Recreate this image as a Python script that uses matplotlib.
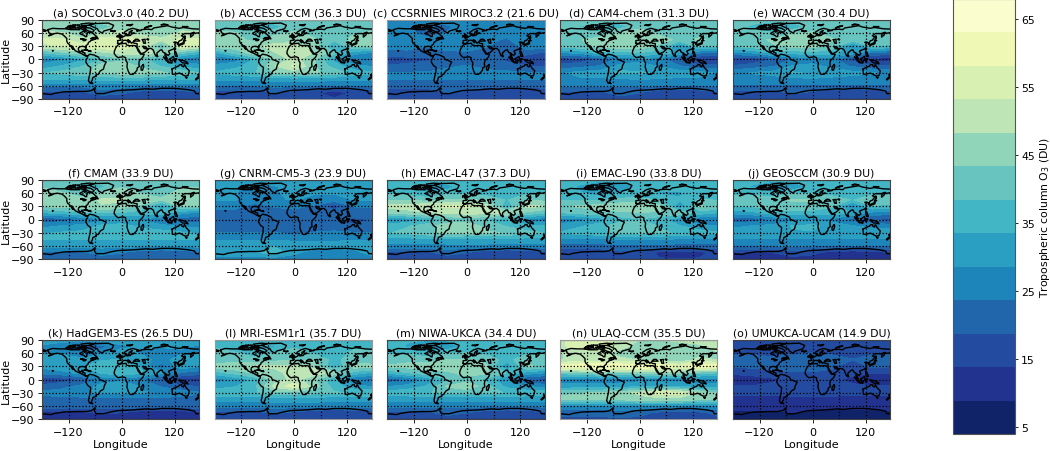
#Tropospheric column ozone maps, 15 models + shared colorbar
import matplotlib
matplotlib.use("Agg")
import matplotlib.pyplot as plt
import numpy as np

#1. Grid and labels
lons = [-180, -135, -90, -45, 0, 45, 90, 135, 180]
lats = [90, 75, 60, 45, 30, 15, 0, -15, -30, -45, -60, -75, -90]
levels = np.linspace(4, 68, 14)
titles = ["(a) SOCOLv3.0 (40.2 DU)", "(b) ACCESS CCM (36.3 DU)", "(c) CCSRNIES MIROC3.2 (21.6 DU)",
          "(d) CAM4-chem (31.3 DU)", "(e) WACCM (30.4 DU)", "(f) CMAM (33.9 DU)", "(g) CNRM-CM5-3 (23.9 DU)",
          "(h) EMAC-L47 (37.3 DU)", "(i) EMAC-L90 (33.8 DU)", "(j) GEOSCCM (30.9 DU)",
          "(k) HadGEM3-ES (26.5 DU)", "(l) MRI-ESM1r1 (35.7 DU)", "(m) NIWA-UKCA (34.4 DU)",
          "(n) ULAQ-CCM (35.5 DU)", "(o) UMUKCA-UCAM (14.9 DU)"]

#2. Values, rows are lats, columns are lons
socol = [[47, 47, 47, 47, 47, 47, 47, 47, 47],
         [46, 44, 37, 40, 46, 47, 47, 47, 46],
         [49, 49, 44, 47, 50, 46, 45, 49, 49],
         [54, 54, 50, 56, 56, 54, 50, 55, 54],
         [52, 54, 55, 57, 57, 52, 38, 56, 52],
         [38, 42, 46, 47, 50, 50, 47, 40, 34],
         [26, 28, 32, 38, 42, 40, 34, 26, 24],
         [30, 34, 38, 46, 48, 42, 38, 32, 30],
         [38, 40, 42, 45, 46, 46, 44, 42, 38],
         [34, 34, 34, 35, 35, 35, 34, 34, 34],
         [25, 25, 25, 26, 26, 25, 25, 25, 25],
         [18, 18, 18, 22, 20, 17, 16, 17, 18],
         [15, 15, 15, 15, 15, 15, 15, 15, 15]]
access = [[42, 42, 42, 42, 42, 42, 42, 42, 42],
          [42, 40, 34, 36, 42, 42, 42, 42, 42],
          [44, 44, 40, 42, 44, 42, 40, 43, 44],
          [44, 45, 42, 46, 47, 44, 40, 45, 44],
          [46, 46, 47, 50, 50, 47, 32, 44, 44],
          [32, 40, 46, 48, 52, 48, 40, 30, 28],
          [24, 26, 34, 44, 50, 44, 32, 24, 22],
          [30, 32, 36, 48, 54, 44, 36, 30, 28],
          [34, 36, 38, 44, 46, 44, 42, 36, 34],
          [30, 30, 30, 31, 31, 31, 30, 30, 30],
          [24, 24, 24, 25, 25, 24, 24, 24, 24],
          [16, 16, 16, 19, 17, 14, 13, 14, 16],
          [14, 14, 14, 14, 14, 14, 14, 14, 14]]
ccsrnies = [[26, 26, 26, 26, 26, 26, 26, 26, 26],
            [26, 25, 21, 23, 26, 26, 26, 26, 26],
            [26, 25, 22, 24, 26, 24, 25, 26, 26],
            [27, 27, 25, 28, 28, 25, 23, 28, 27],
            [26, 26, 24, 27, 26, 24, 19, 27, 26],
            [21, 22, 21, 22, 23, 22, 22, 20, 18],
            [17, 17, 18, 20, 21, 20, 18, 16, 16],
            [19, 20, 21, 23, 24, 22, 20, 19, 18],
            [24, 24, 24, 25, 25, 25, 25, 24, 24],
            [24, 24, 24, 24, 24, 24, 24, 24, 24],
            [20, 20, 20, 21, 21, 20, 20, 20, 20],
            [17, 17, 17, 19, 18, 15, 14, 15, 17],
            [15, 15, 15, 15, 15, 15, 15, 15, 15]]
cam4 = [[42, 42, 42, 42, 42, 42, 42, 42, 42],
        [42, 38, 34, 36, 42, 42, 42, 42, 42],
        [42, 42, 40, 44, 46, 42, 42, 42, 42],
        [42, 43, 46, 48, 48, 46, 42, 44, 42],
        [40, 42, 45, 47, 47, 42, 28, 40, 38],
        [28, 30, 36, 36, 38, 36, 32, 24, 22],
        [16, 16, 20, 25, 27, 26, 18, 13, 12],
        [20, 22, 24, 30, 31, 28, 24, 20, 20],
        [28, 30, 31, 35, 34, 33, 31, 30, 28],
        [28, 28, 28, 28, 29, 28, 28, 28, 28],
        [24, 24, 24, 24, 24, 24, 24, 24, 24],
        [18, 18, 18, 21, 19, 16, 15, 16, 18],
        [17, 17, 17, 17, 17, 17, 17, 17, 17]]
waccm = [[41, 41, 41, 41, 41, 41, 41, 41, 41],
         [41, 37, 32, 35, 41, 41, 41, 41, 41],
         [41, 41, 39, 43, 44, 41, 41, 41, 41],
         [41, 42, 44, 46, 46, 44, 41, 43, 41],
         [39, 41, 43, 45, 45, 41, 27, 39, 37],
         [27, 29, 35, 35, 37, 35, 31, 23, 21],
         [15, 15, 19, 24, 26, 25, 17, 12, 11],
         [19, 21, 23, 29, 30, 27, 23, 19, 19],
         [27, 29, 30, 34, 33, 32, 30, 29, 27],
         [27, 27, 27, 27, 28, 27, 27, 27, 27],
         [23, 23, 23, 23, 23, 23, 23, 23, 23],
         [17, 17, 17, 20, 18, 15, 14, 15, 17],
         [16, 16, 16, 16, 16, 16, 16, 16, 16]]
cmam = [[42, 42, 42, 42, 42, 42, 42, 42, 42],
        [43, 40, 34, 37, 43, 43, 43, 43, 43],
        [45, 44, 40, 44, 46, 43, 42, 45, 45],
        [47, 47, 46, 49, 49, 47, 44, 48, 47],
        [44, 45, 46, 48, 46, 42, 30, 44, 43],
        [33, 35, 38, 38, 38, 36, 36, 30, 27],
        [20, 21, 24, 27, 29, 28, 24, 21, 20],
        [27, 29, 30, 35, 36, 32, 30, 28, 27],
        [33, 34, 35, 37, 38, 37, 36, 34, 33],
        [34, 34, 34, 34, 34, 34, 34, 34, 34],
        [30, 30, 30, 30, 30, 30, 30, 30, 30],
        [23, 23, 23, 26, 24, 21, 20, 21, 23],
        [21, 21, 21, 21, 21, 21, 21, 21, 21]]
cnrm = [[32, 32, 32, 32, 32, 32, 32, 32, 32],
        [31, 30, 25, 28, 31, 31, 31, 31, 31],
        [30, 29, 26, 28, 30, 29, 29, 30, 30],
        [29, 29, 26, 28, 29, 27, 26, 29, 29],
        [25, 25, 22, 24, 25, 23, 16, 24, 25],
        [22, 22, 21, 22, 22, 20, 21, 21, 20],
        [20, 20, 19, 19, 20, 20, 19, 18, 19],
        [20, 20, 19, 20, 21, 20, 20, 19, 20],
        [24, 24, 24, 24, 22, 24, 25, 24, 24],
        [28, 28, 28, 28, 27, 27, 27, 28, 28],
        [32, 32, 32, 33, 32, 32, 32, 32, 32],
        [33, 33, 33, 37, 30, 26, 24, 26, 33],
        [26, 26, 26, 26, 26, 26, 26, 26, 26]]
emac47 = [[38, 38, 38, 38, 38, 38, 38, 38, 38],
          [38, 36, 28, 31, 38, 38, 38, 38, 38],
          [38, 37, 34, 37, 38, 36, 36, 38, 38],
          [42, 42, 41, 44, 44, 42, 38, 43, 42],
          [50, 51, 53, 54, 54, 51, 34, 50, 48],
          [44, 46, 48, 49, 50, 50, 48, 42, 38],
          [28, 30, 34, 39, 41, 38, 34, 27, 25],
          [36, 38, 41, 47, 46, 42, 38, 35, 34],
          [38, 40, 42, 45, 44, 44, 43, 40, 38],
          [32, 32, 32, 33, 33, 33, 32, 32, 32],
          [27, 27, 27, 27, 27, 27, 27, 27, 27],
          [18, 18, 18, 21, 19, 15, 14, 15, 18],
          [16, 16, 16, 16, 16, 16, 16, 16, 16]]
emac90 = [[35, 35, 35, 35, 35, 35, 35, 35, 35],
          [35, 33, 26, 29, 35, 35, 35, 35, 35],
          [35, 34, 31, 34, 35, 33, 33, 35, 35],
          [38, 38, 37, 40, 40, 38, 34, 39, 38],
          [43, 44, 46, 47, 47, 45, 29, 44, 42],
          [38, 40, 42, 42, 43, 43, 42, 36, 33],
          [26, 27, 31, 36, 38, 35, 30, 24, 23],
          [30, 33, 36, 43, 43, 38, 34, 30, 29],
          [34, 36, 37, 40, 40, 39, 38, 36, 34],
          [28, 28, 28, 29, 29, 29, 28, 28, 28],
          [22, 22, 22, 22, 22, 22, 22, 22, 22],
          [15, 15, 15, 18, 16, 13, 12, 13, 15],
          [14, 14, 14, 14, 14, 14, 14, 14, 14]]
geosccm = [[35, 35, 35, 35, 35, 35, 35, 35, 35],
           [36, 33, 27, 29, 36, 36, 36, 36, 36],
           [37, 37, 34, 38, 38, 36, 36, 37, 37],
           [41, 42, 42, 44, 44, 42, 38, 43, 41],
           [38, 39, 41, 42, 42, 39, 26, 38, 37],
           [30, 32, 36, 36, 36, 36, 33, 27, 25],
           [20, 21, 24, 27, 28, 27, 22, 19, 17],
           [27, 29, 30, 34, 35, 31, 29, 27, 26],
           [32, 32, 33, 33, 33, 33, 32, 32, 32],
           [28, 28, 28, 28, 28, 28, 28, 28, 28],
           [24, 24, 24, 24, 24, 24, 24, 24, 24],
           [14, 14, 14, 17, 15, 12, 11, 12, 14],
           [12, 12, 12, 12, 12, 12, 12, 12, 12]]
hadgem = [[30, 30, 30, 30, 30, 30, 30, 30, 30],
          [28, 26, 19, 22, 28, 29, 29, 29, 28],
          [28, 28, 25, 28, 30, 28, 26, 28, 28],
          [31, 32, 30, 33, 34, 31, 26, 32, 31],
          [30, 32, 33, 37, 37, 33, 21, 32, 28],
          [25, 27, 30, 34, 37, 34, 29, 23, 21],
          [15, 16, 19, 25, 27, 24, 18, 13, 12],
          [20, 22, 25, 31, 33, 28, 23, 20, 18],
          [25, 26, 27, 30, 30, 29, 28, 26, 24],
          [22, 22, 22, 22, 22, 22, 22, 22, 22],
          [22, 22, 22, 22, 22, 22, 22, 22, 22],
          [13, 13, 13, 15, 14, 11, 10, 11, 13],
          [11, 11, 11, 11, 11, 11, 11, 11, 11]]
mri = [[38, 38, 38, 38, 38, 38, 38, 38, 38],
       [38, 36, 30, 33, 38, 38, 38, 38, 38],
       [40, 39, 36, 39, 40, 38, 37, 39, 40],
       [40, 41, 40, 42, 43, 42, 37, 41, 40],
       [46, 47, 49, 49, 50, 47, 33, 46, 45],
       [36, 40, 44, 47, 50, 51, 46, 36, 32],
       [26, 30, 35, 45, 50, 44, 34, 24, 22],
       [30, 33, 37, 50, 56, 46, 36, 30, 28],
       [38, 38, 38, 41, 42, 40, 39, 38, 38],
       [30, 30, 30, 31, 31, 31, 30, 30, 30],
       [26, 26, 26, 26, 26, 26, 26, 26, 26],
       [17, 17, 17, 20, 18, 15, 14, 15, 17],
       [15, 15, 15, 15, 15, 15, 15, 15, 15]]
niwa = [[34, 34, 34, 34, 34, 34, 34, 34, 34],
        [36, 33, 26, 30, 36, 37, 37, 37, 36],
        [38, 38, 35, 38, 39, 37, 35, 38, 38],
        [41, 42, 41, 44, 44, 42, 36, 43, 41],
        [44, 45, 46, 47, 46, 44, 29, 44, 42],
        [34, 38, 41, 42, 46, 44, 38, 31, 28],
        [20, 24, 30, 38, 41, 37, 28, 19, 17],
        [28, 30, 34, 44, 47, 40, 32, 28, 26],
        [36, 37, 38, 40, 40, 40, 38, 37, 36],
        [30, 30, 30, 30, 30, 30, 30, 30, 30],
        [25, 25, 25, 25, 25, 25, 25, 25, 25],
        [18, 18, 18, 21, 19, 16, 15, 16, 18],
        [16, 16, 16, 16, 16, 16, 16, 16, 16]]
ulaq = [[53, 54, 55, 52, 48, 48, 50, 52, 53],
        [52, 56, 58, 50, 46, 44, 44, 46, 52],
        [48, 50, 50, 46, 46, 44, 44, 46, 48],
        [48, 50, 50, 50, 48, 46, 44, 50, 48],
        [62, 63, 63, 63, 63, 62, 58, 63, 62],
        [40, 42, 44, 42, 44, 44, 44, 40, 38],
        [26, 26, 27, 26, 27, 27, 27, 26, 26],
        [30, 30, 30, 31, 32, 32, 32, 30, 30],
        [42, 43, 44, 46, 50, 57, 55, 48, 42],
        [45, 45, 45, 45, 46, 46, 46, 45, 45],
        [28, 28, 28, 28, 28, 28, 28, 28, 28],
        [20, 20, 20, 22, 20, 18, 17, 18, 20],
        [18, 18, 18, 18, 18, 18, 18, 18, 18]]
umukca = [[17, 17, 17, 17, 17, 17, 17, 17, 17],
          [17, 16, 13, 15, 17, 17, 17, 17, 17],
          [18, 18, 16, 18, 19, 18, 17, 18, 18],
          [21, 22, 21, 23, 23, 21, 19, 22, 21],
          [19, 20, 21, 22, 22, 20, 14, 20, 19],
          [15, 16, 17, 18, 18, 17, 16, 14, 14],
          [10, 11, 13, 15, 16, 15, 12, 10, 10],
          [14, 14, 15, 17, 18, 16, 15, 14, 14],
          [15, 15, 15, 16, 16, 16, 15, 15, 15],
          [12, 12, 12, 12, 12, 12, 12, 12, 12],
          [11, 11, 11, 11, 11, 11, 11, 11, 11],
          [8, 8, 8, 9, 8, 7, 7, 7, 8],
          [7, 7, 7, 7, 7, 7, 7, 7, 7]]
fields = [socol, access, ccsrnies, cam4, waccm, cmam, cnrm, emac47, emac90, geosccm,
          hadgem, mri, niwa, ulaq, umukca]

#3. Simplified coastlines (lon, lat)
north_america = [(-166, 68), (-156, 71), (-141, 70), (-128, 70), (-115, 68), (-108, 68), (-95, 68), (-94, 72), (-88, 68),
                 (-82, 69), (-81, 67), (-87, 64), (-94, 60), (-93, 58), (-85, 55), (-82, 52), (-79, 52), (-79, 55), (-77, 60),
                 (-78, 62), (-72, 62), (-65, 60), (-61, 56), (-56, 52), (-60, 50), (-66, 50), (-70, 47), (-65, 48), (-64, 46),
                 (-61, 46), (-66, 44), (-70, 43), (-71, 41), (-75, 39), (-76, 35), (-81, 31), (-80, 26), (-81, 25), (-83, 29),
                 (-89, 30), (-94, 29), (-97, 27), (-98, 22), (-95, 18), (-91, 18), (-90, 21), (-87, 21), (-88, 16), (-83, 15),
                 (-83, 10), (-80, 9), (-77, 8), (-80, 7), (-85, 10), (-92, 14), (-97, 16), (-105, 20), (-109, 26), (-113, 31),
                 (-110, 23), (-115, 30), (-118, 34), (-122, 37), (-124, 42), (-124, 48), (-130, 54), (-135, 58), (-145, 60),
                 (-152, 59), (-158, 56), (-165, 54), (-158, 58), (-165, 61), (-165, 64), (-168, 66), (-166, 68)]
south_america = [(-77, 8), (-72, 12), (-62, 10), (-52, 5), (-50, 0), (-44, -2), (-35, -6), (-39, -14), (-41, -22), (-48, -26),
                 (-53, -34), (-58, -35), (-57, -38), (-65, -41), (-66, -46), (-69, -52), (-65, -55), (-72, -54), (-75, -48),
                 (-73, -38), (-71, -30), (-70, -18), (-76, -14), (-81, -6), (-80, 0), (-77, 4), (-77, 8)]
africa = [(-6, 35), (10, 37), (11, 33), (20, 31), (25, 32), (32, 31), (34, 28), (37, 20), (43, 12), (51, 12), (48, 5), (40, -3),
          (39, -10), (40, -16), (35, -20), (35, -24), (32, -28), (26, -34), (19, -34), (15, -27), (12, -17), (13, -8), (9, -1),
          (9, 4), (4, 6), (-4, 5), (-8, 4), (-13, 8), (-17, 14), (-16, 20), (-13, 27), (-10, 31), (-6, 35)]
eurasia = [(-9, 37), (-9, 43), (-1, 44), (-4, 48), (2, 51), (8, 54), (9, 57), (12, 54), (20, 55), (22, 58), (29, 60), (22, 60),
           (21, 64), (24, 66), (17, 62), (18, 59), (13, 55), (11, 59), (5, 59), (6, 62), (15, 68), (25, 71), (40, 67), (34, 65),
           (44, 66), (44, 68), (60, 69), (68, 68), (73, 72), (80, 73), (104, 77), (113, 74), (130, 71), (140, 73), (160, 70),
           (180, 69), (180, 65), (178, 62), (170, 60), (163, 60), (162, 56), (156, 51), (156, 57), (164, 62), (155, 59),
           (142, 59), (135, 54), (141, 52), (135, 44), (130, 42), (128, 38), (129, 35), (126, 34), (126, 38), (122, 40),
           (118, 39), (122, 37), (120, 34), (122, 30), (118, 24), (110, 21), (106, 19), (109, 13), (105, 9), (100, 13),
           (100, 8), (103, 2), (101, 3), (98, 8), (98, 15), (94, 16), (91, 22), (87, 21), (80, 15), (80, 10), (77, 8), (73, 17),
           (72, 21), (67, 25), (57, 25), (56, 27), (50, 30), (48, 30), (51, 25), (56, 24), (59, 22), (52, 16), (44, 13),
           (39, 21), (35, 28), (35, 36), (28, 37), (26, 40), (24, 38), (22, 37), (19, 42), (14, 45), (18, 40), (16, 38),
           (12, 43), (8, 44), (3, 43), (0, 39), (-2, 37), (-5, 36), (-9, 37)]
chukotka = [(-180, 69), (-170, 66), (-173, 64), (-180, 65)]
antarctica = [(-180, -78), (-160, -80), (-150, -77), (-130, -74), (-100, -73), (-80, -73), (-68, -71), (-60, -64), (-62, -70),
              (-58, -78), (-40, -78), (-25, -74), (-10, -71), (10, -70), (30, -69), (55, -67), (70, -68), (90, -66),
              (120, -66), (150, -69), (165, -72), (168, -78), (180, -78)]
australia = [(114, -22), (122, -18), (129, -15), (131, -12), (136, -12), (136, -15), (140, -17), (142, -11), (146, -19),
             (153, -26), (150, -37), (144, -38), (138, -35), (131, -31), (124, -33), (115, -34), (114, -22)]
islands = [[(-73, 78), (-60, 82), (-30, 83), (-18, 78), (-22, 70), (-40, 65), (-44, 60), (-52, 65), (-55, 70), (-73, 78)],
           [(-80, 73), (-70, 71), (-62, 66), (-66, 62), (-75, 65), (-85, 70), (-80, 73)],
           [(-117, 72), (-105, 73), (-102, 69), (-115, 69), (-117, 72)],
           [(-125, 72), (-118, 75), (-117, 72), (-125, 72)],
           [(-90, 77), (-75, 78), (-62, 82), (-75, 83), (-92, 81), (-90, 77)],
           [(-95, 75), (-80, 75), (-85, 73), (-95, 75)],
           [(-115, 76), (-105, 76), (-108, 74), (-115, 76)],
           [(-100, 78), (-95, 79), (-95, 76), (-100, 78)],
           [(-110, 78), (-103, 79), (-105, 77), (-110, 78)],
           [(-122, 75), (-115, 78), (-112, 76), (-122, 75)],
           [(-90, 74), (-84, 74), (-80, 72), (-90, 72), (-90, 74)],
           [(-100, 73), (-96, 73), (-98, 71), (-100, 73)],
           [(-85, 65), (-80, 64), (-84, 62), (-85, 65)],
           [(-59, 48), (-53, 47), (-56, 51), (-59, 48)],
           [(-84, 22), (-75, 20), (-78, 22), (-84, 22)],
           [(-74, 19), (-69, 18), (-70, 20), (-74, 19)],
           [(-24, 65), (-14, 65), (-18, 63), (-24, 65)],
           [(-5, 50), (1, 51), (-2, 56), (-5, 58), (-6, 55), (-3, 53), (-5, 50)],
           [(-10, 52), (-6, 52), (-6, 55), (-10, 54), (-10, 52)],
           [(12, 78), (25, 80), (20, 77), (12, 78)],
           [(52, 71), (68, 77), (55, 74), (52, 71)],
           [(90, 79), (105, 79), (95, 81), (90, 79)],
           [(138, 75), (150, 75), (142, 73), (138, 75)],
           [(142, 46), (143, 54), (144, 49), (142, 46)],
           [(130, 32), (136, 34), (141, 36), (141, 41), (139, 38), (132, 35), (130, 32)],
           [(140, 42), (145, 43), (142, 45), (140, 42)],
           [(120, 22), (122, 25), (120, 25), (120, 22)],
           [(120, 18), (122, 18), (124, 13), (126, 7), (122, 7), (120, 14), (120, 18)],
           [(95, 5), (104, -2), (106, -6), (101, -3), (95, 5)],
           [(105, -6), (114, -7), (114, -8), (106, -7.5), (105, -6)],
           [(109, 1), (117, 7), (119, 1), (115, -4), (110, -3), (109, 1)],
           [(120, 1), (125, 1), (122, -1), (122, -5), (120, -5), (120, 1)],
           [(131, -1), (141, -3), (148, -6), (150, -10), (143, -8), (138, -8), (133, -4), (131, -1)],
           [(145, -41), (148, -41), (147, -43), (145, -41)],
           [(173, -35), (178, -38), (175, -41), (173, -35)],
           [(172, -41), (174, -42), (168, -47), (167, -45), (172, -41)],
           [(49, -12), (50, -16), (47, -25), (44, -24), (44, -17), (49, -12)],
           [(80, 9), (82, 7), (80, 6), (80, 9)],
           [(28, 42), (31, 46), (37, 46), (41, 42), (35, 42), (28, 42)],
           [(47, 45), (53, 46), (53, 40), (54, 37), (50, 37), (47, 45)],
           [(58, 46), (61, 46), (60, 44), (58, 46)],
           [(-92, 47), (-85, 47), (-84, 46), (-80, 45), (-83, 43), (-87, 43), (-88, 46), (-92, 47)],
           [(-156, 20), (-155, 20), (-155, 19), (-156, 20)]]
coasts = [north_america, south_america, africa, eurasia, chukotka, antarctica, australia] + islands

#4. Panels
fig, axes = plt.subplots(3, 5, figsize=(10.5, 4.52), dpi=100, sharey=True)
fig.subplots_adjust(left=42 / 1050, right=890 / 1050, top=1 - 21 / 452, bottom=1 - 420 / 452, wspace=0.1, hspace=1.03)

for i, ax in enumerate(axes.flat):
    cf = ax.contourf(lons, lats, np.array(fields[i]), levels=levels, cmap="YlGnBu_r")
    for line in coasts:
        xy = np.array(line)
        ax.plot(xy[:, 0], xy[:, 1], color="black", lw=1.0)
    ax.set_xlim(-180, 175)
    ax.set_ylim(-90, 90)
    ax.set_xticks([-120, 0, 120])
    ax.set_xticks([-60, 60], minor=True)
    ax.set_yticks(np.arange(-90, 91, 30))
    ax.tick_params(axis="x", which="minor", length=0)
    ax.tick_params(labelsize=8, pad=2.5, length=3, width=0.6)
    ax.grid(True, which="both", color="black", linestyle=":", linewidth=0.9)
    ax.set_title(titles[i], fontsize=7.8, pad=3)
    # frames of b, c, l, n look lighter in the picture
    frame = "#999999" if i in (1, 2, 11, 13) else "#444444"
    for s in ax.spines.values():
        s.set_color(frame)
    if i % 5 == 0:
        ax.set_ylabel("Latitude", fontsize=8, labelpad=0)
    else:
        ax.tick_params(axis="y", left=False)
    if i >= 10:
        ax.set_xlabel("Longitude", fontsize=8, labelpad=1.5)

#5. Colorbar
cax = fig.add_axes([953 / 1050, 1 - 435 / 452, 62 / 1050, 435 / 452])
cbar = fig.colorbar(cf, cax=cax, ticks=np.arange(5, 66, 10))
cbar.ax.tick_params(labelsize=7.8, length=2.5, width=0.6, pad=2)
cbar.set_label("Tropospheric column O$_3$ (DU)", fontsize=7.8, labelpad=2.5)
cbar.outline.set_edgecolor("#555555")

fig.savefig("out.png", dpi=100)
